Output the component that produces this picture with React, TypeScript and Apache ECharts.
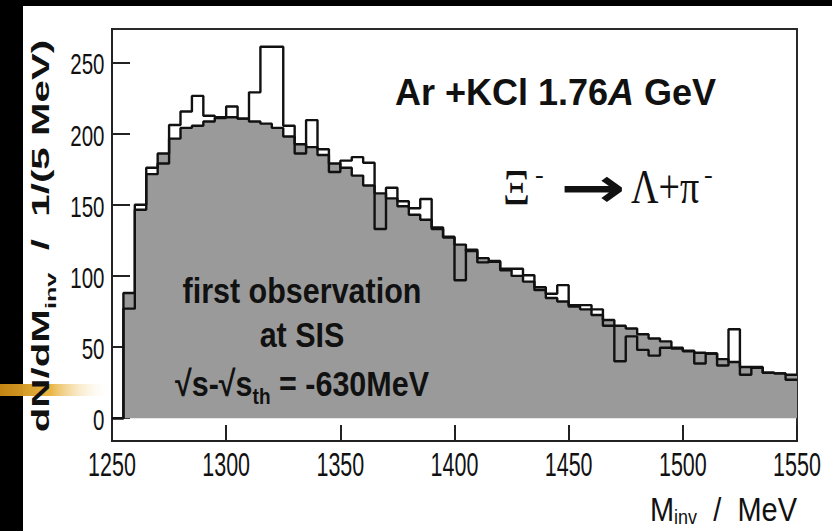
import React, { useEffect, useRef } from "react";
import * as echarts from "echarts";

// Histogram: invariant mass, 5 MeV bins from 1250 MeV
const binStart = 1250;
const binWidth = 5;
const dataCounts = [
  0, 77, 150, 176, 179, 206, 215.5, 226.5, 212.5, 211.5,
  219, 210.5, 229, 261, 261, 205.5, 186, 209.5, 189, 173,
  181, 183.5, 179.5, 133, 162, 152.5, 147.5, 154, 134, 127.5,
  97, 118.5, 109.5, 110.5, 105, 105, 100.5, 90, 87.5, 93.5,
  79.5, 79.5, 76.5, 65, 40, 57.5, 48, 44, 49.5, 49.5,
  47.5, 38.5, 45.5, 37, 62.5, 30.5, 36, 32, 31.5, 27,
];
const backgroundCounts = [
  0, 88, 146.5, 171.5, 186, 196.5, 204, 205.5, 208.5, 211,
  211.5, 210.5, 208.5, 207, 204, 198, 192.5, 190.5, 185, 179,
  176, 170.5, 163.5, 158, 154.5, 149, 143, 139.5, 133, 127,
  122, 117.5, 112.5, 110, 104, 100, 96, 92, 84.5, 82,
  78.5, 76.5, 72.5, 69, 65, 63, 59, 56, 54, 49,
  47, 46, 45.5, 41.5, 39.5, 36, 35.5, 32, 31.5, 30.5,
];
const xTicks = [1250, 1300, 1350, 1400, 1450, 1500, 1550];
const yTicks = [0, 50, 100, 150, 200, 250];
const yMin = -16;
const yMax = 273.5;

const SANS = '"Liberation Sans", Arial, Helvetica, sans-serif';
const SERIF = '"Liberation Serif", "Times New Roman", serif';
const INK = "#111";

function toSteps(v: number[]) {
  const pts = v.map((y, i) => [binStart + i * binWidth, y]);
  pts.push([binStart + v.length * binWidth, v[v.length - 1]]);
  return pts;
}

function txt(x: number, y: number, style: any, extra: any = {}) {
  return {
    type: "text",
    x,
    y,
    z: 10,
    silent: true,
    ...extra,
    style: {
      fill: INK,
      textAlign: style.align,
      textVerticalAlign: style.verticalAlign,
      ...style,
    },
  };
}

export default function App() {
  const ref = useRef<HTMLDivElement>(null);
  useEffect(() => {
    if (!ref.current) return;
    const chart = echarts.init(ref.current, null, { renderer: "svg" });
    const option: any = {
      animation: false,
      backgroundColor: "#000",
      grid: {
        left: 112,
        right: 35,
        top: 29,
        bottom: 90,
        show: true,
        borderColor: "#2a2a2a",
        borderWidth: 2,
        backgroundColor: "transparent",
      },
      xAxis: {
        type: "value",
        min: xTicks[0],
        max: xTicks[xTicks.length - 1],
        interval: 50,
        axisLine: { show: true, onZero: false, lineStyle: { color: "#222", width: 2 } },
        axisTick: { show: true, inside: true, length: 16, lineStyle: { color: "#222", width: 2 } },
        axisLabel: { show: false },
        splitLine: { show: false },
      },
      yAxis: {
        type: "value",
        min: yMin,
        max: yMax,
        axisLine: { show: true, lineStyle: { color: "#222", width: 2 } },
        axisTick: {
          show: true,
          inside: true,
          length: 18,
          customValues: yTicks,
          lineStyle: { color: "#222", width: 2 },
        },
        axisLabel: { show: false },
        splitLine: { show: false },
      },
      series: [
        {
          name: "background",
          type: "line",
          step: "end",
          symbol: "none",
          data: toSteps(backgroundCounts),
          lineStyle: { color: INK, width: 2.4 },
          areaStyle: { color: "#9a9a9a", opacity: 1, origin: "auto" },
          z: 2,
        },
        {
          name: "data",
          type: "line",
          step: "end",
          symbol: "none",
          data: toSteps(dataCounts),
          lineStyle: { color: INK, width: 2.4 },
          z: 3,
        },
      ],
    };
    chart.setOption(option);

    // tick labels placed through the axes' own scales (stretched like the reference)
    const xLabels = xTicks.map((v) => {
      const p = chart.convertToPixel({ gridIndex: 0 }, [v, yMin]) as number[];
      return txt(
        p[0],
        p[1] + 23,
        { text: String(v), align: "center", verticalAlign: "middle", fontFamily: SANS, fontSize: 21.5 },
        { scaleY: 1.58 }
      );
    });
    const yLabels = yTicks.map((v) => {
      const p = chart.convertToPixel({ gridIndex: 0 }, [xTicks[0], v]) as number[];
      return txt(
        p[0] - 7.5,
        p[1] + 1.5,
        { text: String(v), align: "right", verticalAlign: "middle", fontFamily: SANS, fontSize: 20.5 },
        { scaleY: 1.45 }
      );
    });

    const graphic: any[] = [
      {
        type: "rect",
        z: -10,
        silent: true,
        shape: { x: 23, y: 6, width: 809, height: 525 },
        style: { fill: "#fff" },
      },
      {
        type: "rect",
        z: -5,
        silent: true,
        shape: { x: 0, y: 384, width: 112, height: 12 },
        style: {
          fill: new echarts.graphic.LinearGradient(0, 0, 1, 0, [
            { offset: 0, color: "rgba(196,132,18,1)" },
            { offset: 0.45, color: "rgba(232,178,58,0.95)" },
            { offset: 1, color: "rgba(255,255,255,0)" },
          ]),
        },
      },
      ...xLabels,
      ...yLabels,
      // y-axis title
      txt(
        41,
        236,
        {
          text: "{a|dN/dM}{s|inv}{a|  /  1/(5 MeV)}",
          align: "center",
          verticalAlign: "middle",
          rich: {
            a: { fontFamily: SANS, fontWeight: "bold", fontSize: 24, lineHeight: 34, verticalAlign: "middle", fill: INK },
            s: { fontFamily: SANS, fontWeight: "bold", fontSize: 15, lineHeight: 15, verticalAlign: "bottom", fill: INK },
          },
        },
        { rotation: Math.PI / 2, scaleX: 1.68 }
      ),
      // x-axis title
      txt(
        797,
        510,
        {
          text: "{a|M}{s|inv}{a|  /  MeV}",
          align: "right",
          verticalAlign: "middle",
          rich: {
            a: { fontFamily: SANS, fontSize: 29, lineHeight: 30, verticalAlign: "middle", fill: INK },
            s: { fontFamily: SANS, fontSize: 18, lineHeight: 18, verticalAlign: "bottom", fill: INK },
          },
        },
        { scaleY: 1.12 }
      ),
      // system label
      txt(395, 92, {
        text: "{n|Ar +KCl 1.76}{i|A}{n| GeV}",
        align: "left",
        verticalAlign: "middle",
        rich: {
          n: { fontFamily: SANS, fontWeight: "bold", fontSize: 36, fill: INK },
          i: { fontFamily: SANS, fontWeight: "bold", fontStyle: "italic", fontSize: 36, fill: INK },
        },
      }),
      // decay channel
      txt(503, 187, { text: "\u039E", align: "left", verticalAlign: "middle", fontFamily: SERIF, fontSize: 42 }, { scaleY: 1.2 }),
      txt(535, 174, { text: "-", align: "left", verticalAlign: "middle", fontFamily: SERIF, fontSize: 26 }),
      txt(593, 188, { text: "\u2192", align: "center", verticalAlign: "middle", fontFamily: '"DejaVu Sans", sans-serif', fontWeight: "bold", fontSize: 56 }, { scaleX: 1.4 }),
      txt(631, 187, { text: "\u039B+\u03C0", align: "left", verticalAlign: "middle", fontFamily: SERIF, fontSize: 38 }, { scaleY: 1.3 }),
      txt(704, 174, { text: "-", align: "left", verticalAlign: "middle", fontFamily: SERIF, fontSize: 26 }),
      // observation note
      txt(302, 291, { text: "first observation", align: "center", verticalAlign: "middle", fontFamily: SANS, fontWeight: "bold", fontSize: 30.5 }, { scaleY: 1.17 }),
      txt(302, 335, { text: "at SIS", align: "center", verticalAlign: "middle", fontFamily: SANS, fontWeight: "bold", fontSize: 30.5 }, { scaleY: 1.17 }),
      txt(
        302,
        384,
        {
          text: "{m|\u221As-\u221As}{s|th}{m| = -630MeV}",
          align: "center",
          verticalAlign: "middle",
          rich: {
            m: { fontFamily: SANS, fontWeight: "bold", fontSize: 30.5, lineHeight: 40, verticalAlign: "middle", fill: INK },
            s: { fontFamily: SANS, fontWeight: "bold", fontSize: 19, lineHeight: 19, verticalAlign: "bottom", fill: INK },
          },
        },
        { scaleY: 1.17 }
      ),
    ];
    chart.setOption({ graphic });
    return () => chart.dispose();
  }, []);
  return (
    <div
      ref={ref}
      style={{ position: "fixed", left: 0, top: 0, width: 832, height: 531 }}
    />
  );
}
